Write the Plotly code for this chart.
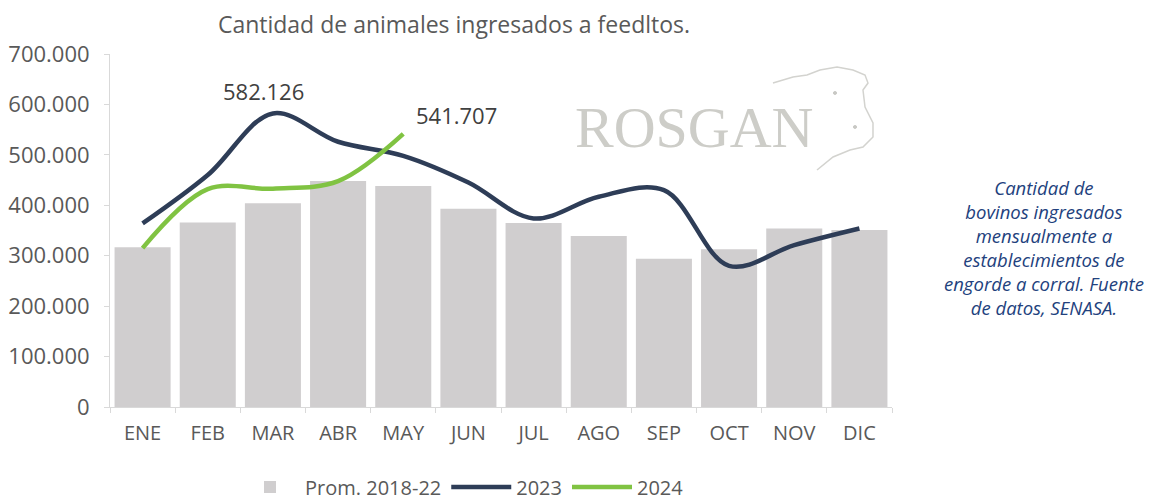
import plotly.graph_objects as go

months = ["ENE", "FEB", "MAR", "ABR", "MAY", "JUN", "JUL", "AGO", "SEP", "OCT", "NOV", "DIC"]
prom_2018_22 = [317000, 366000, 404000, 448000, 438000, 393000, 365000, 339000, 294000, 313000, 354000, 351000]
y2023 = [364000, 460000, 582126, 526000, 498000, 445000, 374000, 417000, 430000, 280000, 321000, 354000]
y2024 = [315000, 432000, 433000, 448000, 541707]
y_ticks = [0, 100000, 200000, 300000, 400000, 500000, 600000, 700000]

GRAY_TXT = "#595959"
FONT = "Open Sans, Liberation Sans, sans-serif"

# page has an 8px body margin: size the figure so it fills the 1162x500 window
OFF = 8
W, H = 1162 - OFF, 500 - OFF
PX0, PX1, PY0, PY1 = 110, 892, 54, 407          # plot area in window pixels
L, R, T, B = PX0 - OFF, W - (PX1 - OFF), PY0 - OFF, H - (PY1 - OFF)
PW, PH = PX1 - PX0, PY1 - PY0


def px(xp, yp):
    """window pixel -> paper coordinates"""
    return (xp - PX0) / PW, (PY1 - yp) / PH


fig = go.Figure()
fig.add_trace(go.Bar(x=months, y=prom_2018_22, name="Prom. 2018-22",
                     marker=dict(color="#d0cecf", line=dict(width=0))))
fig.add_trace(go.Scatter(x=months, y=y2023, name="2023", mode="lines",
                         line=dict(color="#2e3d57", width=4.5, shape="spline", smoothing=1.0)))
fig.add_trace(go.Scatter(x=months[:len(y2024)], y=y2024, name="2024", mode="lines",
                         line=dict(color="#80c342", width=4.5, shape="spline", smoothing=1.0)))

# value labels
fig.add_annotation(x=months[2], y=y2023[2], text="582.126", showarrow=False,
                   xshift=-9, yshift=22, font=dict(size=22, color="#404040", family=FONT))
fig.add_annotation(x=months[4], y=y2024[4], text="541.707", showarrow=False,
                   xshift=53, yshift=19, font=dict(size=22, color="#404040", family=FONT))

# watermark logo
wx, wy = px(694, 127)
fig.add_annotation(xref="paper", yref="paper", x=wx, y=wy, xanchor="center", yanchor="middle",
                   text="ROSGAN", showarrow=False,
                   font=dict(size=58, color="#cdcdc8", family="Liberation Serif, DejaVu Serif, serif"))
cow_pts = [(773, 83), (793, 77), (807, 75), (820, 70), (837, 67), (853, 70), (865, 75), (868, 83),
           (863, 90), (865, 107), (873, 123), (873, 137), (863, 147), (850, 150), (833, 157), (817, 170)]
path = ""
for i, (a, b) in enumerate(cow_pts):
    u, v = px(a, b)
    path += ("M " if i == 0 else " L ") + f"{u:.4f} {v:.4f}"
fig.add_shape(type="path", xref="paper", yref="paper", path=path,
              line=dict(color="#d3d3cf", width=1.5))
for (a, b) in [(835, 93), (855, 127)]:
    u, v = px(a, b)
    fig.add_shape(type="circle", xref="paper", yref="paper",
                  x0=u - 0.002, x1=u + 0.002, y0=v - 0.004, y1=v + 0.004,
                  line=dict(color="#c8c8c4", width=1), fillcolor="#c8c8c4")

# side note
nx, ny = px(1044, 247)
fig.add_annotation(xref="paper", yref="paper", x=nx, y=ny, xanchor="center", yanchor="middle",
                   text=("<i>Cantidad de<br>bovinos ingresados<br>mensualmente a<br>"
                         "establecimientos de<br>engorde a corral. Fuente<br>de datos, SENASA.</i>"),
                   showarrow=False, align="center",
                   font=dict(size=18.5, color="#22417d", family="Open Sans, sans-serif"))

lx, ly = px(462, 487)
fig.update_layout(
    width=W, height=H,
    paper_bgcolor="white", plot_bgcolor="white",
    separators=",.",
    margin=dict(l=L, r=R, t=T, b=B, autoexpand=False),
    title=dict(text="Cantidad de animales ingresados a feedltos.", x=(454 - OFF) / W, xanchor="center",
               xref="container", y=1 - (25 - OFF) / H, yanchor="middle", yref="container",
               font=dict(size=23, color=GRAY_TXT, family=FONT)),
    bargap=0.14,
    showlegend=True,
    legend=dict(orientation="h", x=lx, xanchor="center", y=ly, yanchor="middle",
                font=dict(size=20, color=GRAY_TXT, family=FONT), traceorder="normal",
                itemwidth=60),
    font=dict(family=FONT, color=GRAY_TXT),
)
fig.update_xaxes(showline=True, linecolor="#d9d9d9", linewidth=1, ticks="outside",
                 tickson="boundaries", ticklen=5, tickcolor="#d9d9d9", showgrid=False,
                 ticklabelstandoff=8,
                 tickfont=dict(size=20, color=GRAY_TXT), fixedrange=True)
fig.update_yaxes(range=[0, 700000], tickvals=y_ticks, tickformat=",d", showline=True,
                 linecolor="#d9d9d9", linewidth=1, ticks="outside", ticklen=5,
                 tickcolor="#d9d9d9", showgrid=False, zeroline=False,
                 ticklabelstandoff=10,
                 tickfont=dict(size=22, color=GRAY_TXT), fixedrange=True)

fig.write_html("out.html")
